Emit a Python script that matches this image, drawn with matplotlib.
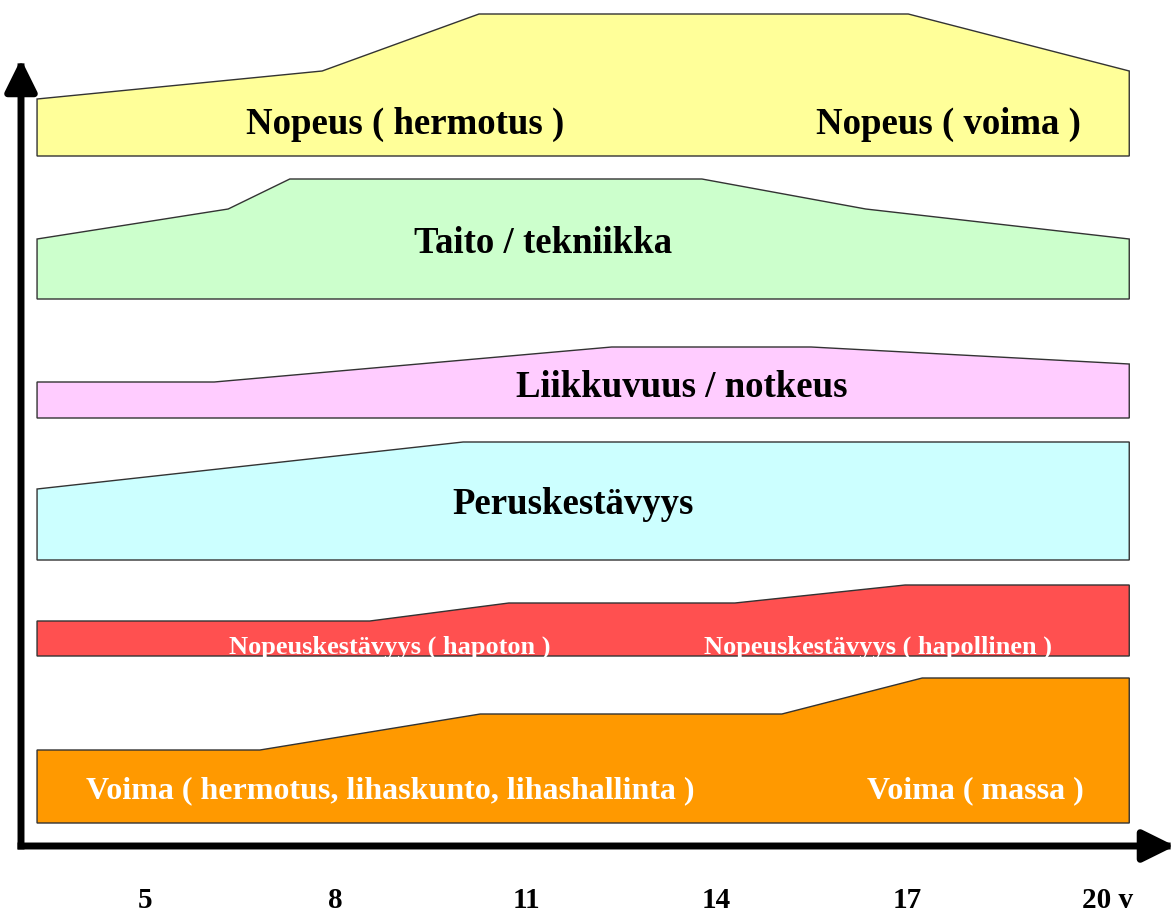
# Kehitysvaiheet: ominaisuuksien herkkyyskaudet iän mukaan
import matplotlib.pyplot as plt
from matplotlib.patches import Polygon

# Age axis (years)
ages = [5, 8, 11, 14, 17, 20]
age_labels = ["5", "8", "11", "14", "17", "20 v"]
band_start = 3.30
band_end = 20.50

# Each band: bottom level and top profile (age, level) from left to right
nopeus_bottom = 69.0
nopeus_x = [band_start, 7.79, 10.26, 17.02, band_end]
nopeus_top = [74.7, 77.5, 83.2, 83.2, 77.5]

taito_bottom = 54.7
taito_x = [band_start, 6.31, 7.28, 13.77, 16.35, band_end]
taito_top = [60.7, 63.7, 66.7, 66.7, 63.7, 60.7]

liikkuvuus_bottom = 42.8
liikkuvuus_x = [band_start, 6.09, 12.35, 15.49, band_end]
liikkuvuus_top = [46.4, 46.4, 49.9, 49.9, 48.2]

perus_bottom = 28.6
perus_x = [band_start, 10.01, band_end]
perus_top = [35.7, 40.4, 40.4]

nopeuskest_bottom = 19.0
nopeuskest_x = [band_start, 8.54, 10.73, 14.29, 16.97, band_end]
nopeuskest_top = [22.5, 22.5, 24.3, 24.3, 26.1, 26.1]

voima_bottom = 2.3
voima_x = [band_start, 6.81, 10.28, 15.03, 17.24, band_end]
voima_top = [9.6, 9.6, 13.2, 13.2, 16.8, 16.8]

bands = [
    (nopeus_x, nopeus_top, nopeus_bottom, "#FFFF99"),
    (taito_x, taito_top, taito_bottom, "#CCFFCC"),
    (liikkuvuus_x, liikkuvuus_top, liikkuvuus_bottom, "#FFCCFF"),
    (perus_x, perus_top, perus_bottom, "#CCFFFF"),
    (nopeuskest_x, nopeuskest_top, nopeuskest_bottom, "#FF5050"),
    (voima_x, voima_top, voima_bottom, "#FF9900"),
]

# Labels: text, age position, baseline level, colour, size
labels = [
    ("Nopeus ( hermotus )", 9.09, 71.2, "black", 26.5),
    ("Nopeus ( voima )", 17.66, 71.2, "black", 26.5),
    ("Taito / tekniikka", 11.27, 59.3, "black", 26.5),
    ("Liikkuvuus / notkeus", 13.45, 44.9, "black", 26.5),
    ("Peruskestävyys", 11.74, 33.2, "black", 26.5),
    ("Nopeuskestävyys ( hapoton )", 8.86, 19.2, "white", 19),
    ("Nopeuskestävyys ( hapollinen )", 16.54, 19.2, "white", 19),
    ("Voima ( hermotus, lihaskunto, lihashallinta )", 8.86, 4.8, "white", 23),
    ("Voima ( massa )", 18.07, 4.8, "white", 23),
]

plt.rcParams["font.family"] = ["Liberation Serif", "DejaVu Serif"]

fig = plt.figure(figsize=(11.76, 9.13), dpi=100)
ax = fig.add_axes([0, 0, 1, 1])
ax.set_xlim(5 - 145 / 63.5, 5 + 1031 / 63.5)
ax.set_ylim(-6.7, 84.6)
ax.axis("off")

# Draw the bands as polygons with a flat bottom
for xs, tops, bottom, color in bands:
    pts = list(zip(xs, tops)) + [(xs[-1], bottom), (xs[0], bottom)]
    ax.add_patch(Polygon(pts, closed=True, facecolor=color,
                         edgecolor="#333333", linewidth=1.0))

for text, x, y, color, size in labels:
    ax.text(x, y, text, ha="center", va="baseline", color=color,
            fontsize=size, fontweight="bold")

# Axis arrows
axis_x = 5 + (21 - 145) / 63.5
arrow_style = "-|>,head_length=0.97,head_width=0.48"
ax.annotate("", xy=(axis_x, 78.7), xytext=(axis_x, 0),
            arrowprops=dict(arrowstyle=arrow_style, lw=5, color="black",
                            mutation_scale=20, shrinkA=0, shrinkB=0,
                            capstyle="projecting"))
ax.annotate("", xy=(21.22, 0), xytext=(axis_x, 0),
            arrowprops=dict(arrowstyle=arrow_style, lw=5, color="black",
                            mutation_scale=20, shrinkA=0, shrinkB=0,
                            capstyle="projecting"))

# Age tick labels (the unit "v" hangs to the right of the last number)
for a, lab in zip(ages, age_labels):
    if lab.endswith(" v"):
        ax.annotate(lab, xy=(a, -6.2), xytext=(-11, 0),
                    textcoords="offset points", ha="left", va="baseline",
                    fontsize=21, fontweight="bold")
    else:
        ax.text(a, -6.2, lab, ha="center", va="baseline", fontsize=21,
                fontweight="bold")

fig.savefig("out.png", dpi=100)
